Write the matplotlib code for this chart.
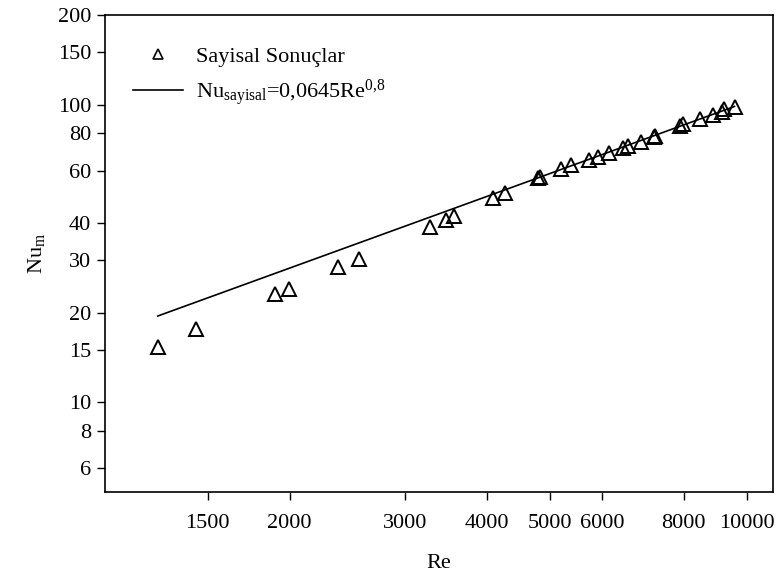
import matplotlib
matplotlib.use("Agg")
import matplotlib.pyplot as plt
from matplotlib.lines import Line2D
from matplotlib.ticker import FixedLocator, FixedFormatter, NullLocator

plt.rcParams["font.family"] = ["Liberation Serif", "DejaVu Serif"]
plt.rcParams["mathtext.fontset"] = "custom"
plt.rcParams["mathtext.rm"] = "Liberation Serif"
plt.rcParams["mathtext.it"] = "Liberation Serif:italic"

# numerical results
re_vals = [1258, 1438, 1898, 1994, 2369, 2551, 3273, 3463, 3561, 4086,
           4262, 4800, 4830, 5188, 5373, 5725, 5908, 6143, 6452, 6567,
           6874, 7194, 7230, 7883, 7967, 8459, 8854, 9137, 9230, 9565]
nu_vals = [15.4, 17.6, 23.1, 24.0, 28.5, 30.3, 38.8, 41.0, 42.3, 48.6,
           50.5, 56.6, 57.2, 60.9, 62.8, 65.3, 66.8, 68.9, 71.6, 72.8,
           75.1, 78.0, 78.6, 84.9, 86.3, 89.7, 92.5, 94.7, 97.0, 98.5]

# correlation line Nu = 0.0645 Re^0.8 (end points)
line_re = [1258, 9565]
line_nu = [19.5, 98.6]

x_ticks = [1500, 2000, 3000, 4000, 5000, 6000, 8000, 10000]
y_ticks = [6, 8, 10, 15, 20, 30, 40, 60, 80, 100, 150, 200]

FS = 16

fig = plt.figure(figsize=(7.76, 5.77), dpi=100)
ax = fig.add_axes([0.1353, 0.1473, 0.8608, 0.8267])

ax.plot(line_re, line_nu, color="black", lw=1.2)
ax.plot(re_vals, nu_vals, linestyle="none", marker="^", markersize=9.5,
        markerfacecolor="none", markeredgecolor="black", markeredgewidth=1.4)

ax.set_xscale("log")
ax.set_yscale("log")
ax.set_xlim(1045, 10950)
ax.set_ylim(5, 200)

ax.xaxis.set_major_locator(FixedLocator(x_ticks))
ax.xaxis.set_major_formatter(FixedFormatter([str(t) for t in x_ticks]))
ax.xaxis.set_minor_locator(NullLocator())
ax.yaxis.set_major_locator(FixedLocator(y_ticks))
ax.yaxis.set_major_formatter(FixedFormatter([str(t) for t in y_ticks]))
ax.yaxis.set_minor_locator(NullLocator())

ax.tick_params(axis="both", direction="out", length=6, width=1,
               labelsize=FS)
ax.tick_params(axis="x", pad=10)
ax.tick_params(axis="y", pad=4)
for sp in ax.spines.values():
    sp.set_linewidth(1.2)

ax.set_xlabel("Re", fontsize=FS, labelpad=15)
ax.set_ylabel(r"Nu$_\mathrm{m}$", fontsize=FS, labelpad=8)

handles = [
    Line2D([], [], linestyle="none", marker="^", markersize=7,
           markerfacecolor="none", markeredgecolor="black", markeredgewidth=1.2),
    Line2D([], [], color="black", lw=1.2),
]
labels = ["Sayisal Sonuçlar", r"Nu$_\mathrm{sayisal}$=0,0645Re$^{\mathrm{0{,}8}}$"]
ax.legend(handles, labels, loc="upper left", bbox_to_anchor=(0.042, 0.934),
          frameon=False, fontsize=FS, handlelength=2.25, handletextpad=0.6,
          labelspacing=0.45, borderpad=0, borderaxespad=0)

fig.savefig("out.png", dpi=100)
